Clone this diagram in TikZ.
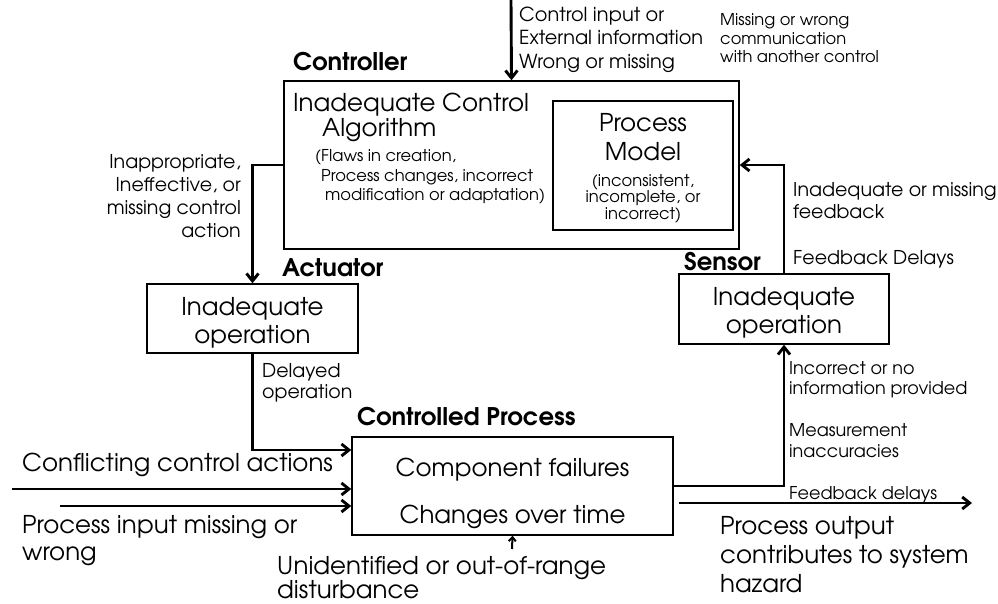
\documentclass[tikz,border=0pt]{standalone}
\usepackage{fontspec}
\setmainfont{TeX Gyre Adventor}
\usetikzlibrary{positioning,calc,arrows.meta}
\newcommand{\fsz}[2]{\fontsize{#1}{#2}\selectfont}
\newcommand{\lift}[1]{\rule{0pt}{#1}}
\tikzstyle{block} = [draw, rectangle, line width=1.4pt, inner sep=0pt, align=center]
\tikzstyle{txt} = [inner sep=0pt, anchor=west, align=left]
\tikzstyle{head} = [inner sep=0pt, anchor=west, font=\bfseries\fsz{24.3}{26}]
\tikzstyle{flow} = [-{Straight Barb[length=7.5pt,width=12pt]}, line width=2.9pt]
\tikzstyle{tick} = [-{Straight Barb[length=4pt,width=7pt]}, line width=2pt]

\begin{document}
\begin{tikzpicture}[x=1pt, y=-1pt]
		\useasboundingbox (0,0) rectangle (998,604);
		% boxes
		\node (ctrl) [block, minimum width=455pt, minimum height=168pt] at (511.5,165) {};
		\node (model) [block, minimum width=180pt, minimum height=129pt] at (643,165.5) {};
		\node (act) [block, minimum width=211pt, minimum height=69pt, font=\fsz{24.5}{28}] at (252.5,318.5) {\lift{26pt}Inadequate\\operation};
		\node (sens) [block, minimum width=210pt, minimum height=70pt, font=\fsz{24.5}{28}] at (784,309) {\lift{26pt}Inadequate\\operation};
		\node (plant) [block, minimum width=321pt, minimum height=98pt, font=\fsz{24.5}{47}] at (512.5,486) {\lift{33pt}Component failures\\Changes over time};
		% headings
		\node (ctrlhd) [head] at (293,62) {Controller};
		\node (acthd) [head] at (282,268) {Actuator};
		\node (senshd) [head] at (684,262) {Sensor};
		\node (planthd) [head] at (357,417) {Controlled Process};
		% inside the controller
		\node (algo) [txt, font=\fsz{24.5}{25}] at (293,117.5) {Inadequate Control\\\hspace*{29pt}Algorithm};
		\node (flaws) [txt, font=\fsz{16.3}{19.5}] at (315,177) {(Flaws in creation,\\\hspace*{6pt}Process changes, incorrect\\\hspace*{10pt}modification or adaptation)};
		\node (modelhd) [inner sep=0pt, align=center, font=\fsz{24.5}{29}] at (643,137.5) {Process\\Model};
		\node (modeltxt) [inner sep=0pt, align=center, font=\fsz{16.3}{16.5}] at (643,198.5) {(inconsistent,\\incomplete, or\\incorrect)};
		% labels
		\node (inptxt) [txt, font=\fsz{19.3}{23.5}] at (519,39.5) {Control input or\\External information\\Wrong or missing};
		\node (commtxt) [txt, font=\fsz{16.3}{18.5}] at (720,38.5) {Missing or wrong\\communication\\with another control};
		\node (catxt) [txt, anchor=east, align=right, font=\fsz{19}{23}] at (241,196.5) {Inappropriate,\\Ineffective, or\\missing control\\action};
		\node (delaytxt) [txt, font=\fsz{19}{21}] at (262,383) {Delayed\\operation};
		\node (conftxt) [txt, font=\fsz{24.5}{27}] at (22,465) {Conflicting control actions};
		\node (inputtxt) [txt, font=\fsz{24.5}{27}] at (22,541) {Process input missing or\\wrong};
		\node (disttxt) [txt, font=\fsz{24.5}{24}] at (277,577.5) {Unidentified or out-of-range\\disturbance};
		\node (outtxt) [txt, font=\fsz{24.5}{29}] at (720,555) {Process output\\contributes to system\\hazard};
		\node (fbdtxt) [txt, font=\fsz{17.6}{20}] at (789,495) {Feedback delays};
		\node (meastxt) [txt, font=\fsz{17.6}{21}] at (789,441) {Measurement\\inaccuracies};
		\node (inctxt) [txt, font=\fsz{17.6}{20}] at (789,380) {Incorrect or no\\information provided};
		\node (fbtxt) [txt, font=\fsz{19}{22}] at (793,201) {Inadequate or missing\\feedback};
		\node (fbdltxt) [txt, font=\fsz{19}{22}] at (793,259) {Feedback Delays};
		% free ends
		\coordinate (inp) at (511,0);
		\coordinate (dl) at (252,450);
		\coordinate (conf) at (12,489);
		\coordinate (pin) at (60,506);
		\coordinate (dist) at (512,549);
		\coordinate (out) at (972,503);
		% connectors
		\draw[flow] (inp) -- (ctrl.north);
		\draw[flow] (ctrl.west) -| (act.north);
		\draw[flow] (act.south) |- (plant.west |- dl);
		\draw[flow] (conf) -- (conf -| plant.west);
		\draw[flow] (pin) -- (pin -| plant.west);
		\draw[tick] (dist) -- (plant.south);
		\draw[flow] (plant.east) -| (sens.south);
		\draw[flow] ($(plant.east |- out)+(5,0)$) -- (out);
		\draw[flow] (sens.north) |- (ctrl.east);
\end{tikzpicture}
\end{document}
